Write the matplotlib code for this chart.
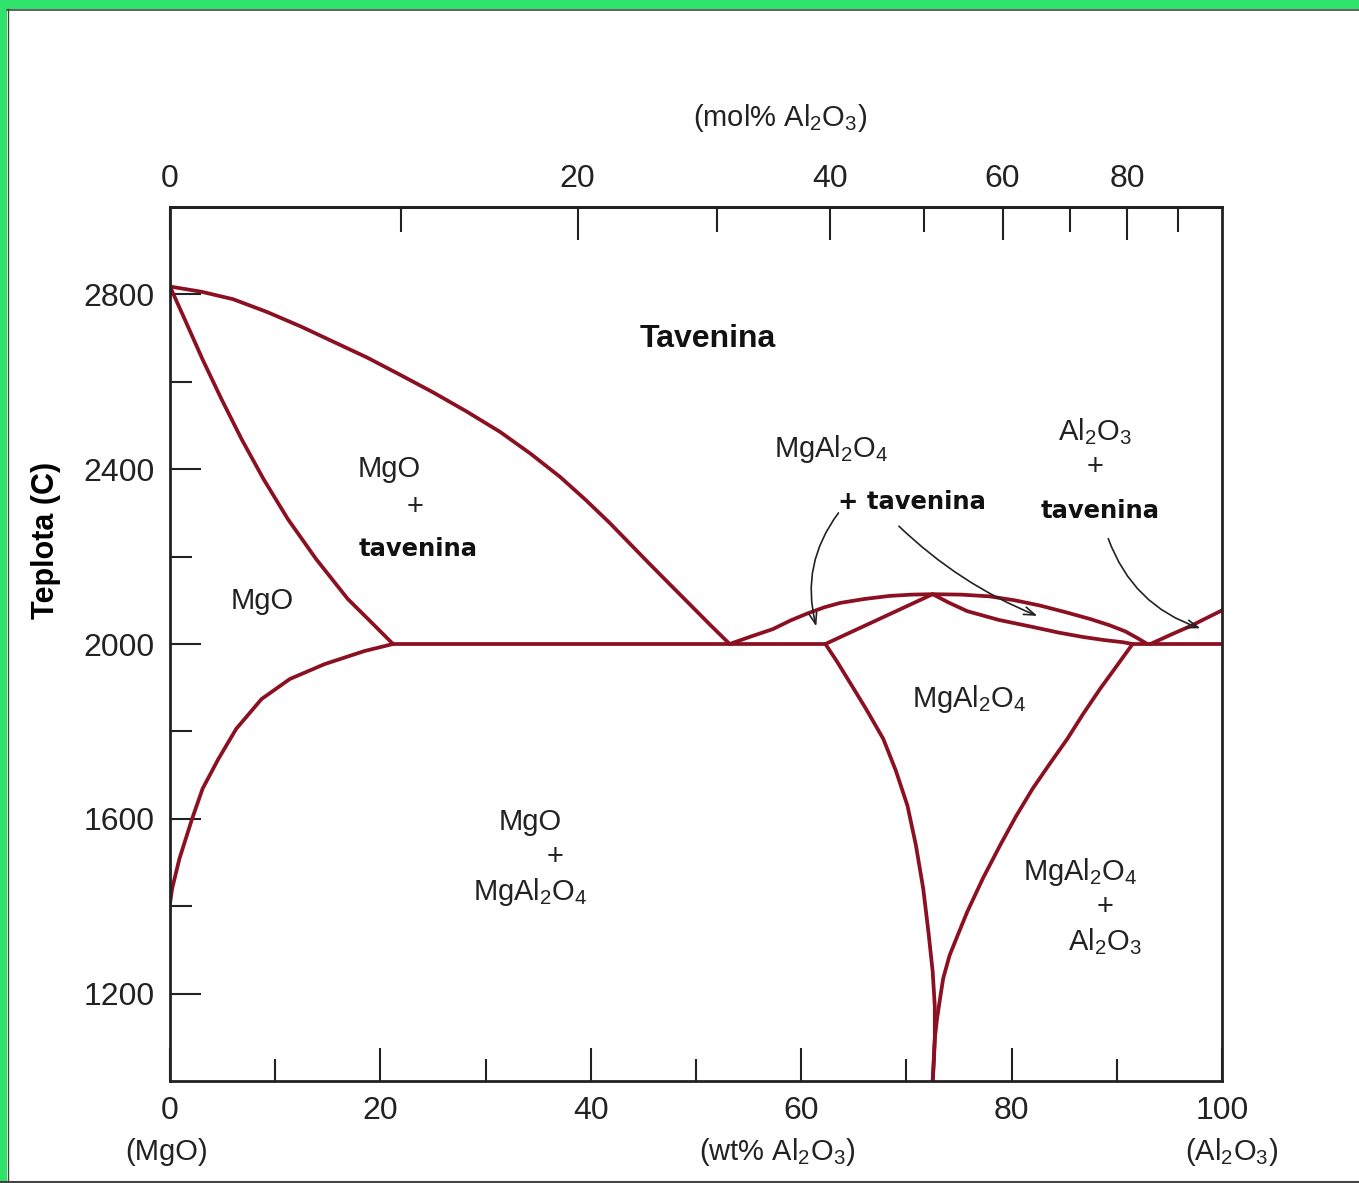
import matplotlib
matplotlib.use("Agg")
import matplotlib.pyplot as plt
from matplotlib.patches import Rectangle
from matplotlib.lines import Line2D
import numpy as np

plt.rcParams["font.family"] = ["Liberation Sans", "DejaVu Sans"]
plt.rcParams["mathtext.fontset"] = "custom"
plt.rcParams["mathtext.rm"] = "Liberation Sans"
plt.rcParams["mathtext.default"] = "regular"

# krivky fazoveho diagramu (wt% Al2O3, teplota C)
liq_mgo_x = [0, 3.0, 6.0, 9.2, 12.4, 15.5, 18.7, 21.8, 25.0, 28.2, 31.4, 34.3, 37.1, 39.5, 41.8, 43.7, 45.6, 47.5, 49.4, 51.3, 53.2]
liq_mgo_t = [2818, 2806, 2789, 2760, 2727, 2692, 2656, 2617, 2576, 2532, 2485, 2435, 2382, 2330, 2277, 2230, 2183, 2137, 2091, 2045, 2000]

sol_mgo_x = [0, 1.4, 3.1, 4.9, 6.8, 8.9, 11.2, 13.9, 16.9, 19.0, 21.2]
sol_mgo_t = [2818, 2743, 2651, 2560, 2469, 2377, 2286, 2194, 2103, 2053, 2000]

solv_mgo_x = [0, 0.2, 0.9, 2.1, 3.1, 4.6, 6.3, 8.7, 11.4, 14.7, 18.5, 21.2]
solv_mgo_t = [1406, 1440, 1509, 1600, 1669, 1737, 1806, 1874, 1920, 1954, 1984, 2000]

eut1_x = [21.2, 62.3]
eut1_t = [2000, 2000]

liq_sp_x = [53.2, 55.2, 57.3, 59.0, 60.6, 62.2, 63.7, 66.0, 68.4, 70.5, 72.5,
            75.2, 77.9, 80.3, 82.7, 85.1, 87.5, 89.3, 90.8, 92.0, 92.9]
liq_sp_t = [2000, 2017, 2034, 2054, 2070, 2084, 2094, 2103, 2110, 2113, 2114,
            2113, 2109, 2100, 2088, 2073, 2057, 2043, 2029, 2013, 2000]

sol_sp_left_x = [62.3, 67.4, 72.5]
sol_sp_left_t = [2000, 2057, 2114]

sol_sp_right_x = [72.5, 74.0, 75.8, 78.8, 82.0, 84.5, 86.8, 88.8, 90.6, 91.5]
sol_sp_right_t = [2114, 2095, 2075, 2055, 2039, 2026, 2016, 2009, 2004, 2000]

solv_sp_left_x = [62.3, 63.4, 64.6, 66.2, 67.8, 69.0, 70.1, 70.9, 71.6, 72.1,
                  72.5, 72.7, 72.7, 72.6, 72.5]
solv_sp_left_t = [2000, 1960, 1913, 1850, 1783, 1710, 1630, 1540, 1440, 1340,
                  1250, 1170, 1097, 1040, 1000]

solv_sp_right_x = [91.5, 90.0, 88.4, 86.8, 85.3, 83.6, 82.0, 80.4, 78.9, 77.3,
                   75.8, 74.9, 74.1, 73.5, 73.2, 72.9, 72.7, 72.6, 72.5]
solv_sp_right_t = [2000, 1950, 1897, 1840, 1783, 1725, 1669, 1605, 1539, 1465,
                   1388, 1335, 1287, 1235, 1189, 1140, 1097, 1050, 1000]

liq_al_x = [93.2, 95.2, 97.0, 100]
liq_al_t = [2000, 2022, 2041, 2077]

eut2_x = [91.5, 100]
eut2_t = [2000, 2000]

curves = [
    (liq_mgo_x, liq_mgo_t), (sol_mgo_x, sol_mgo_t), (solv_mgo_x, solv_mgo_t),
    (eut1_x, eut1_t), (liq_sp_x, liq_sp_t), (sol_sp_left_x, sol_sp_left_t),
    (sol_sp_right_x, sol_sp_right_t), (solv_sp_left_x, solv_sp_left_t),
    (solv_sp_right_x, solv_sp_right_t), (liq_al_x, liq_al_t), (eut2_x, eut2_t),
]

wt_ticks = [0, 20, 40, 60, 80, 100]
wt_minor = [10, 30, 50, 70, 90]
t_ticks = [1200, 1600, 2000, 2400, 2800]
t_minor = [1400, 1800, 2200, 2600]
mol_ticks = [0, 20, 40, 60, 80]
mol_minor = [10, 30, 50, 70, 90]

M_AL = 101.96
M_MG = 40.30


def wt2mol(w):
    w = np.clip(np.asarray(w, dtype=float), 0, 100)
    a = w / M_AL
    b = (100 - w) / M_MG
    return 100 * a / (a + b + 1e-12)


def mol2wt(m):
    m = np.clip(np.asarray(m, dtype=float), 0, 100)
    a = m * M_AL
    b = (100 - m) * M_MG
    return 100 * a / (a + b + 1e-12)


fig = plt.figure(figsize=(13.59, 11.83), dpi=100)
ax = fig.add_axes([170 / 1359, 1 - 1081 / 1183, 1052 / 1359, 874 / 1183])

red = "#8a1022"
for xs, ts in curves:
    ax.plot(xs, ts, color=red, lw=2.7, solid_capstyle="round", solid_joinstyle="round")

ax.set_xlim(0, 100)
ax.set_ylim(1000, 3000)
for s in ax.spines.values():
    s.set_linewidth(2.0)
    s.set_color("#222222")

ax.set_xticks(wt_ticks)
ax.set_xticks(wt_minor, minor=True)
ax.set_yticks(t_ticks)
ax.set_yticks(t_minor, minor=True)
ax.tick_params(which="both", direction="in", labelsize=23, colors="#222222", width=1.5)
ax.tick_params(which="major", length=24, pad=11)
ax.tick_params(which="minor", length=16)
ax.tick_params(axis="y", which="major", length=22, pad=11)

sec = ax.secondary_xaxis("top", functions=(wt2mol, mol2wt))
sec.set_xticks(mol_ticks)
sec.set_xticks(mol_minor, minor=True)
sec.tick_params(which="both", direction="in", labelsize=23, colors="#222222", width=1.5, pad=9)
sec.tick_params(which="major", length=24)
sec.tick_params(which="minor", length=18)
sec.spines["top"].set_linewidth(2.0)

ax.set_ylabel("Teplota (C)", fontsize=22, fontweight="bold")
ax.yaxis.set_label_coords(-0.104, 0.619)

fig.text(780 / 1359, 1 - 118 / 1183, r"(mol% Al$_2$O$_3$)", ha="center", va="center", fontsize=21, color="#222222")
fig.text(167 / 1359, 1 - 1152 / 1183, "(MgO)", ha="center", va="center", fontsize=21, color="#222222")
fig.text(777 / 1359, 1 - 1152 / 1183, r"(wt% Al$_2$O$_3$)", ha="center", va="center", fontsize=21, color="#222222")
fig.text(1232 / 1359, 1 - 1152 / 1183, r"(Al$_2$O$_3$)", ha="center", va="center", fontsize=21, color="#222222")

# popisky oblasti
norm = dict(ha="center", va="center", fontsize=21, color="#222222")
bold = dict(ha="center", va="center", fontsize=17.5, color="#111111", fontweight="bold", family="DejaVu Sans")

ax.text(51.1, 2697, "Tavenina", ha="center", va="center", fontsize=23, fontweight="bold", color="#111111")
ax.text(20.8, 2400, "MgO", **norm)
ax.text(23.3, 2313, "+", **norm)
ax.text(23.6, 2217, "tavenina", **bold)
ax.text(8.8, 2098, "MgO", **norm)
ax.text(62.9, 2446, r"MgAl$_2$O$_4$", **norm)
ax.text(70.5, 2325, "+ tavenina", **bold)
ax.text(87.9, 2485, r"Al$_2$O$_3$", **norm)
ax.text(87.9, 2405, "+", **norm)
ax.text(88.4, 2304, "tavenina", **bold)
ax.text(76.0, 1874, r"MgAl$_2$O$_4$", **norm)
ax.text(34.2, 1593, "MgO", **norm)
ax.text(36.6, 1513, "+", **norm)
ax.text(34.2, 1433, r"MgAl$_2$O$_4$", **norm)
ax.text(86.5, 1479, r"MgAl$_2$O$_4$", **norm)
ax.text(88.9, 1399, "+", **norm)
ax.text(88.9, 1319, r"Al$_2$O$_3$", **norm)

arr = dict(arrowstyle="->,head_length=0.8,head_width=0.28", color="#222222", lw=1.2)
ax.annotate("", xy=(61.5, 2034), xytext=(63.7, 2305),
            arrowprops=dict(connectionstyle="arc3,rad=0.25", **arr))
ax.annotate("", xy=(82.7, 2062), xytext=(69.1, 2274),
            arrowprops=dict(connectionstyle="arc3,rad=0.1", **arr))
ax.annotate("", xy=(98.2, 2034), xytext=(89.1, 2247),
            arrowprops=dict(connectionstyle="arc3,rad=0.25", **arr))

# zeleny ramecek
green = "#2ee26b"
fig.patches.append(Rectangle((0, 1 - 9 / 1183), 1, 9 / 1183, transform=fig.transFigure,
                             facecolor=green, edgecolor="none", zorder=0))
fig.patches.append(Rectangle((0, 0), 7 / 1359, 1, transform=fig.transFigure,
                             facecolor=green, edgecolor="none", zorder=0))
fig.lines.append(Line2D([7 / 1359, 1], [1 - 9.5 / 1183, 1 - 9.5 / 1183], transform=fig.transFigure,
                        color="#444444", lw=1.2))
fig.lines.append(Line2D([7.5 / 1359, 7.5 / 1359], [0, 1 - 9 / 1183], transform=fig.transFigure,
                        color="#444444", lw=1.0))
fig.lines.append(Line2D([0, 1], [1.5 / 1183, 1.5 / 1183], transform=fig.transFigure,
                        color="#444444", lw=1.5))

fig.savefig("out.png", dpi=100)
